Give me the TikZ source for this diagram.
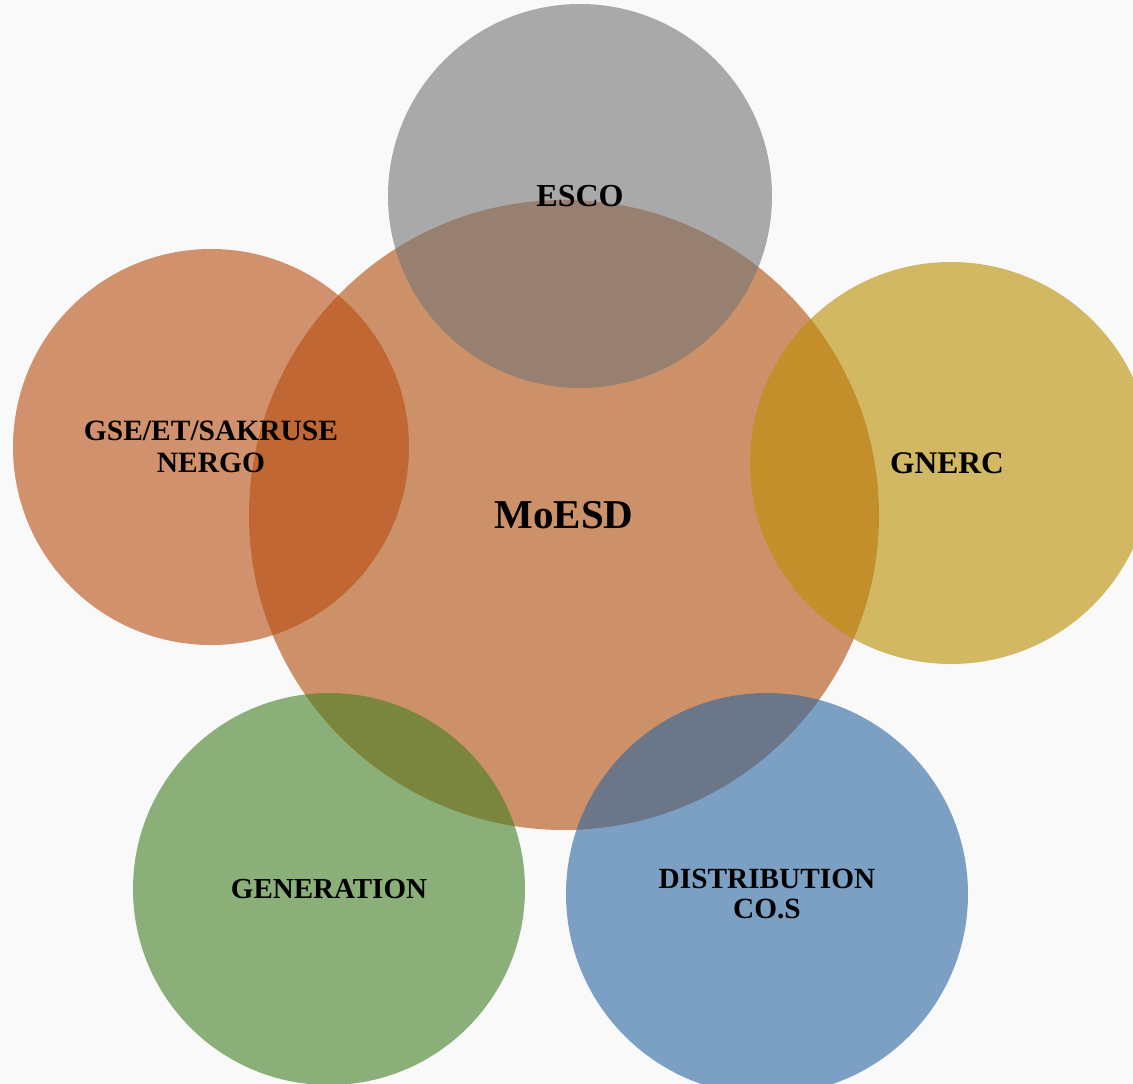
\documentclass[tikz,border=0pt]{standalone}
\usepackage{fontspec}
\setmainfont{Liberation Serif}
\definecolor{bgc}{RGB}{249,249,249}
\definecolor{cmoesd}{RGB}{176,76,9}
\definecolor{cgse}{RGB}{184,76,17}
\definecolor{cesco}{RGB}{117,117,117}
\definecolor{cgnerc}{RGB}{187,142,0}
\definecolor{cgen}{RGB}{67,126,34}
\definecolor{cdist}{RGB}{42,101,159}

\begin{document}
\begin{tikzpicture}[x=1pt, y=-1pt,
  bubble/.style={circle, draw=none, fill opacity=0.6, text opacity=1, align=center, inner sep=0pt}]
  \useasboundingbox (0,0) rectangle (1133,1084);
  \fill[bgc] (0,0) rectangle (1133,1084);
  \clip (0,0) rectangle (1133,1084);

  \node[bubble, fill=cmoesd, minimum size=630pt, font=\fontsize{41}{48}\selectfont\bfseries] (moesd) at (564,515) {MoESD};
  \node[bubble, fill=cgse, minimum size=396pt, font=\fontsize{29.5}{32}\selectfont\bfseries] (gse) at (211,447) {GSE/ET/SAKRUSE\\NERGO};
  \node[bubble, fill=cesco, minimum size=384pt, font=\fontsize{32}{38}\selectfont\bfseries] (esco) at (580,196) {ESCO};
  \node[bubble, fill=cgnerc, minimum size=402pt, font=\fontsize{31.5}{36}\selectfont\bfseries] (gnerc) at (951,463) {\hspace*{-8pt}GNERC};
  \node[bubble, fill=cgen, minimum size=392pt, font=\fontsize{29}{34}\selectfont\bfseries] (gen) at (329,889) {GENERATION};
  \node[bubble, fill=cdist, minimum size=402pt, font=\fontsize{29.3}{30}\selectfont\bfseries] (dist) at (767,894) {DISTRIBUTION\\CO.S};
\end{tikzpicture}
\end{document}
